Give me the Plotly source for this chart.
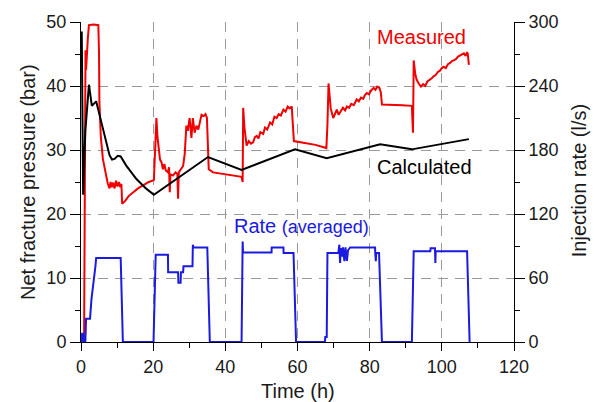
import plotly.graph_objects as go

# ---------------- data ----------------
meas_t = [0.85, 0.95, 1.05, 1.25, 1.4, 1.6, 1.9, 2.2, 3.5, 4.8, 5.0, 5.1, 5.5, 6.06, 6.5, 7.0, 7.4, 7.9,
          8.2, 8.5, 8.9, 9.3, 9.7, 10.1, 10.5, 10.9, 11.2, 11.4, 12.2, 13.2, 14.4, 15.8, 17.3, 18.8, 20.2,
          20.5, 20.9, 21.2, 21.5, 21.9, 22.3, 22.7, 23.1, 23.5, 24.1, 24.4, 24.6, 24.8, 25.5, 26.2, 26.7,
          26.9, 27.1, 27.8, 28.3, 28.75, 29.2, 29.6, 30.1, 30.6, 31.0, 31.5, 32.0, 32.5, 33.0, 33.4, 34.0,
          34.5, 34.9, 35.1, 35.4, 36.6, 40.0, 44.0,
          44.5, 44.8, 44.95, 45.3, 45.9, 46.5, 47.1, 47.7, 48.2, 48.7, 49.2, 49.7, 50.5, 51.0, 51.6, 52.4,
          53.0, 53.6, 54.2, 54.8, 55.4, 56.1, 56.7, 57.3, 57.8, 58.4, 58.7, 59.0, 62.0, 65.0, 68.0,
          68.3, 68.6, 69.2, 69.9, 70.4, 70.9, 71.4, 72.0, 72.6, 73.2, 73.7, 74.3, 74.9, 75.6, 76.4, 77.0,
          77.6, 78.2, 78.7, 79.2, 79.8, 80.4, 81.1, 81.6, 82.1, 82.7, 83.1, 83.4, 86.0, 89.0, 91.7,
          91.9, 92.0, 92.1, 92.2, 92.6, 93.0, 93.6, 94.2, 94.8, 95.4, 96.0, 96.6, 97.2, 97.7, 98.3, 98.9,
          99.5, 100.0, 100.5, 101.1, 101.7, 102.3, 102.8, 103.3, 103.9, 104.5, 105.1, 105.6, 106.1, 106.6,
          107.0, 107.2, 107.5]
meas_p = [0.0, 15.0, 35.0, 45.6, 42.5, 45.6, 47.5, 49.5, 49.6, 49.5, 45.0, 37.4, 32.0, 28.6, 27.2, 26.0, 24.8, 24.0,
          25.0, 24.2, 24.9, 24.0, 25.2, 24.3, 25.0, 24.2, 24.7, 21.6, 22.0, 22.8, 23.4, 24.0, 24.5, 25.0, 25.3,
          30.0, 35.0, 32.0, 30.1, 28.5, 28.1, 27.0, 27.8, 26.8, 26.5, 27.3, 23.4, 26.2, 26.0, 26.5, 26.3,
          22.4, 26.5, 27.0, 27.5, 29.4, 33.8, 33.0, 35.0, 31.9, 35.0, 32.7, 33.8, 33.2, 34.6, 35.5, 35.3,
          35.6, 35.0, 31.0, 27.0, 26.5, 26.2, 25.9,
          25.8, 25.0, 36.6, 33.5, 30.7, 31.4, 31.0, 31.2, 32.0, 32.2, 31.8, 32.8, 32.5, 33.5, 33.2, 34.3,
          34.0, 35.2, 35.0, 35.6, 35.4, 36.3, 36.0, 36.8, 36.5, 36.8, 34.5, 31.4, 31.1, 30.8, 30.3,
          34.0, 40.4, 36.5, 35.0, 35.8, 36.3, 35.5, 36.0, 36.6, 36.2, 36.8, 36.6, 37.2, 37.0, 37.9, 37.6,
          38.2, 38.0, 38.6, 38.9, 38.7, 39.3, 39.7, 39.4, 39.9, 39.7, 39.0, 37.1, 37.1, 37.0, 36.9,
          34.0, 32.7, 38.0, 44.0, 42.0, 41.0, 40.4, 39.9, 40.3, 40.0, 40.7, 40.9, 41.2, 41.5, 41.7, 42.2,
          42.4, 42.8, 43.0, 42.8, 43.4, 43.6, 43.9, 44.0, 44.2, 44.6, 44.8, 45.0, 45.1, 44.7,
          45.3, 45.0, 43.3]

calc_t = [0.2, 0.6, 1.2, 2.2, 3.0, 4.2, 5.0, 6.1, 7.0, 7.9, 8.6, 9.3, 10.2, 11.0, 12.5, 15.3, 18.0, 20.2,
          35.2, 44.5, 59.3, 68.1, 82.9, 91.7, 107.5]
calc_p = [48.5, 23.0, 33.0, 40.2, 36.9, 37.6, 35.8, 33.2, 31.0, 29.2, 28.5, 28.6, 29.1, 29.0, 27.6, 25.5, 24.0, 23.0,
          28.9, 26.9, 30.1, 28.7, 30.9, 30.1, 31.7]

rate_t = [0.0, 0.2, 0.3, 0.6, 0.8, 1.2, 1.4, 2.5, 2.9, 3.3, 3.6, 4.0, 4.2, 11.0, 11.6, 20.1, 20.7, 24.1, 24.15,
          26.9, 27.0, 27.6, 27.7, 28.3, 28.4, 30.9, 31.0, 31.2, 35.0, 35.7, 44.5, 44.8, 44.9, 52.8, 52.85,
          56.1, 56.15, 58.9, 59.6, 67.6, 67.7, 68.1, 68.3, 71.3, 71.6, 71.8, 72.0, 72.3, 72.6, 73.0, 73.3,
          73.7, 74.0, 74.6, 81.5, 81.55, 81.7, 81.8, 82.6, 83.4, 91.7, 92.2, 96.8, 96.9, 98.1, 98.2, 98.3,
          107.0, 107.7]
rate_q = [0.0, 0.0, 7.8, 7.8, 0.0, 0.0, 21.7, 21.7, 40.0, 51.0, 55.0, 71.0, 78.8, 78.8, 0.0, 0.0, 81.9, 81.9, 65.5,
          65.5, 55.6, 55.6, 65.5, 65.5, 71.0, 71.0, 91.2, 88.7, 88.7, 0.0, 0.0, 94.3, 84.0, 84.0, 88.7,
          88.7, 83.4, 83.4, 0.0, 0.0, 4.6, 4.6, 83.4, 83.4, 91.2, 74.1, 88.0, 80.0, 88.7, 75.7, 88.7,
          76.0, 86.0, 88.7, 88.7, 83.4, 75.7, 83.4, 83.4, 0.0, 0.0, 85.0, 85.0, 88.0, 88.0, 74.1, 85.0,
          85.0, 0.0]

x_ticks = [0, 20, 40, 60, 80, 100, 120]
p_ticks = [0, 10, 20, 30, 40, 50]
q_ticks = [0, 60, 120, 180, 240, 300]

FONT = "Liberation Sans, Arial, sans-serif"
RED = "#f00000"
BLUE = "#1a1ae0"

fig = go.Figure()
fig.add_trace(go.Scatter(x=meas_t, y=meas_p, mode="lines", line=dict(color=RED, width=2),
                         showlegend=False, hoverinfo="skip"))
fig.add_trace(go.Scatter(x=calc_t, y=calc_p, mode="lines", line=dict(color="black", width=2),
                         showlegend=False, hoverinfo="skip"))
fig.add_trace(go.Scatter(x=rate_t, y=rate_q, mode="lines", line=dict(color=BLUE, width=2),
                         yaxis="y2", showlegend=False, hoverinfo="skip"))

grid = dict(showgrid=True, gridcolor="#9a9a9a", gridwidth=1, griddash="10px,7px")

fig.update_layout(
    width=595, height=402,
    margin=dict(l=81, r=81, t=18, b=60),
    paper_bgcolor="white", plot_bgcolor="white",
    font=dict(family=FONT, size=18, color="#1a1a1a"),
    xaxis=dict(range=[0, 120], tickvals=x_ticks, ticks="outside", ticklen=8, tickcolor="black",
               showline=True, linecolor="black", linewidth=1, zeroline=False,
               minor=dict(ticks="outside", dtick=10, ticklen=5, tickcolor="black", showgrid=False),
               tickfont=dict(size=18), **grid),
    yaxis=dict(range=[0, 50], tickvals=p_ticks, ticks="outside", ticklen=10, tickcolor="black",
               showline=True, linecolor="black", linewidth=1, zeroline=False,
               minor=dict(ticks="outside", dtick=5, ticklen=5, tickcolor="black", showgrid=False),
               tickfont=dict(size=18), **grid),
    yaxis2=dict(range=[0, 300], tickvals=q_ticks, ticks="outside", ticklen=10, tickcolor="black",
                overlaying="y", side="right", anchor="x",
                showline=True, linecolor="black", linewidth=1, zeroline=False, showgrid=False,
                minor=dict(ticks="outside", dtick=30, ticklen=5, tickcolor="black", showgrid=False),
                tickfont=dict(size=18)),
)

ann = [
    dict(text="Measured", x=94.5, y=47.7, xref="x", yref="y", showarrow=False,
         font=dict(size=20, color=RED)),
    dict(text="Calculated", x=95.1, y=27.3, xref="x", yref="y", showarrow=False,
         font=dict(size=20, color="black")),
    dict(text="Rate <span style='font-size:18px'>(averaged)</span>", x=61.0, y=18.1, xref="x", yref="y",
         showarrow=False, font=dict(size=20, color=BLUE)),
    dict(text="Time (h)", x=0.5, y=-0.154, xref="paper", yref="paper", showarrow=False,
         xanchor="center", yanchor="middle", font=dict(size=20, color="#1a1a1a")),
    dict(text="Net fracture pressure (bar)", x=-0.1224, y=0.5, xref="paper", yref="paper",
         showarrow=False, textangle=-90, xanchor="center", yanchor="middle",
         font=dict(size=20, color="#1a1a1a")),
    dict(text="Injection rate (l/s)", x=1.152, y=0.505, xref="paper", yref="paper",
         showarrow=False, textangle=-90, xanchor="center", yanchor="middle",
         font=dict(size=20, color="#1a1a1a")),
]
fig.update_layout(annotations=ann)

fig.write_html("out.html")
